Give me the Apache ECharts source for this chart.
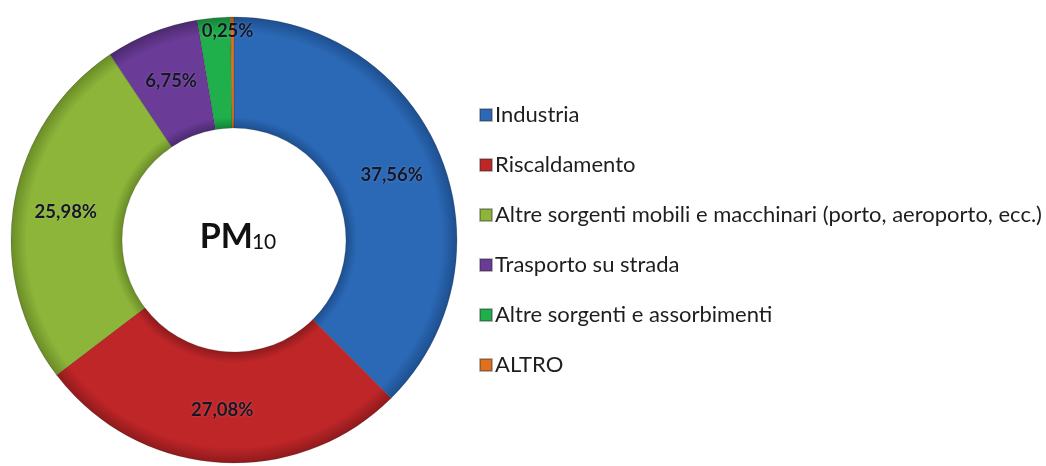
<!DOCTYPE html>
<html>
<head>
<meta charset="utf-8">
<script src="https://cdn.jsdelivr.net/npm/echarts@6/dist/echarts.min.js"></script>
<style>
  html, body { margin: 0; padding: 0; background: #ffffff; }
  #chart { width: 1046px; height: 466px; }
</style>
</head>
<body>
<div id="chart"></div>
<script>
// PM10 emission sources, share of total (%)
const categories = [
  'Industria',
  'Riscaldamento',
  'Altre sorgenti mobili e macchinari (porto, aeroporto, ecc.)',
  'Trasporto su strada',
  'Altre sorgenti e assorbimenti',
  'ALTRO'
];
const shares = [37.56, 27.08, 25.98, 6.75, 2.38, 0.25];
const showLabel = [true, true, true, true, false, true];
const baseColors = ['#2b69b6', '#bf2628', '#8cb53a', '#6a3b97', '#1fb04b', '#e0701e'];
const darkColors = ['#1d4f8f', '#8f1a1c', '#6a8c27', '#4c2a6f', '#148437', '#a8500f'];

const CX = 234, CY = 240, R0 = 112, R1 = 223;

function bevel(i) {
  // radial shading: darker rims at the hole and at the outer edge
  const inner = R0 / R1;
  return {
    type: 'radial', x: CX, y: CY, r: R1, global: true,
    colorStops: [
      { offset: 0, color: darkColors[i] },
      { offset: inner, color: darkColors[i] },
      { offset: inner + 0.05, color: baseColors[i] },
      { offset: 0.93, color: baseColors[i] },
      { offset: 1, color: darkColors[i] }
    ]
  };
}

const pieData = categories.map((name, i) => ({
  name: name,
  value: shares[i],
  itemStyle: { color: bevel(i) },
  label: { show: showLabel[i] }
}));

const chart = echarts.init(document.getElementById('chart'), null, { renderer: 'canvas' });
chart.setOption({
  backgroundColor: '#ffffff',
  animation: false,
  color: baseColors,
  title: {
    text: '{a|PM}{b|10}',
    left: CX - 1,
    top: CY - 25,
    textAlign: 'center',
    textStyle: {
      rich: {
        a: { fontFamily: 'Lato', fontWeight: 'bold', fontSize: 34, color: '#111111', verticalAlign: 'bottom' },
        b: { fontFamily: 'Lato', fontWeight: 'normal', fontSize: 21, color: '#111111', verticalAlign: 'bottom', padding: [0, 0, 1, -1] }
      }
    }
  },
  legend: {
    orient: 'vertical',
    left: 474,
    top: 99,
    itemWidth: 12,
    itemHeight: 12,
    itemGap: 28,
    icon: 'rect',
    selectedMode: false,
    data: categories.map((c, i) => ({ name: c, itemStyle: { color: baseColors[i] } })),
    textStyle: { fontFamily: 'Lato', fontSize: 22, color: '#1e1e1e', lineHeight: 22, padding: [0, 0, 0, -2] }
  },
  series: [{
    type: 'pie',
    center: [CX, CY],
    radius: [R0, R1],
    startAngle: 90,
    clockwise: true,
    avoidLabelOverlap: false,
    data: pieData,
    itemStyle: { borderColor: 'rgba(40,40,40,0.35)', borderWidth: 0.6 },
    label: {
      position: 'inside',
      formatter: p => p.value.toFixed(2).replace('.', ',') + '%',
      fontFamily: 'Lato',
      fontWeight: 'bold',
      fontSize: 18.5,
      color: '#161626',
      textShadowColor: 'rgba(255,255,255,0.25)',
      textShadowBlur: 2
    },
    labelLine: { show: false },
    labelLayout: function (p) {
      if (p.dataIndex === 5) return { dx: -5, dy: -38 };
    },
    emphasis: { disabled: true }
  }]
});
</script>
</body>
</html>
